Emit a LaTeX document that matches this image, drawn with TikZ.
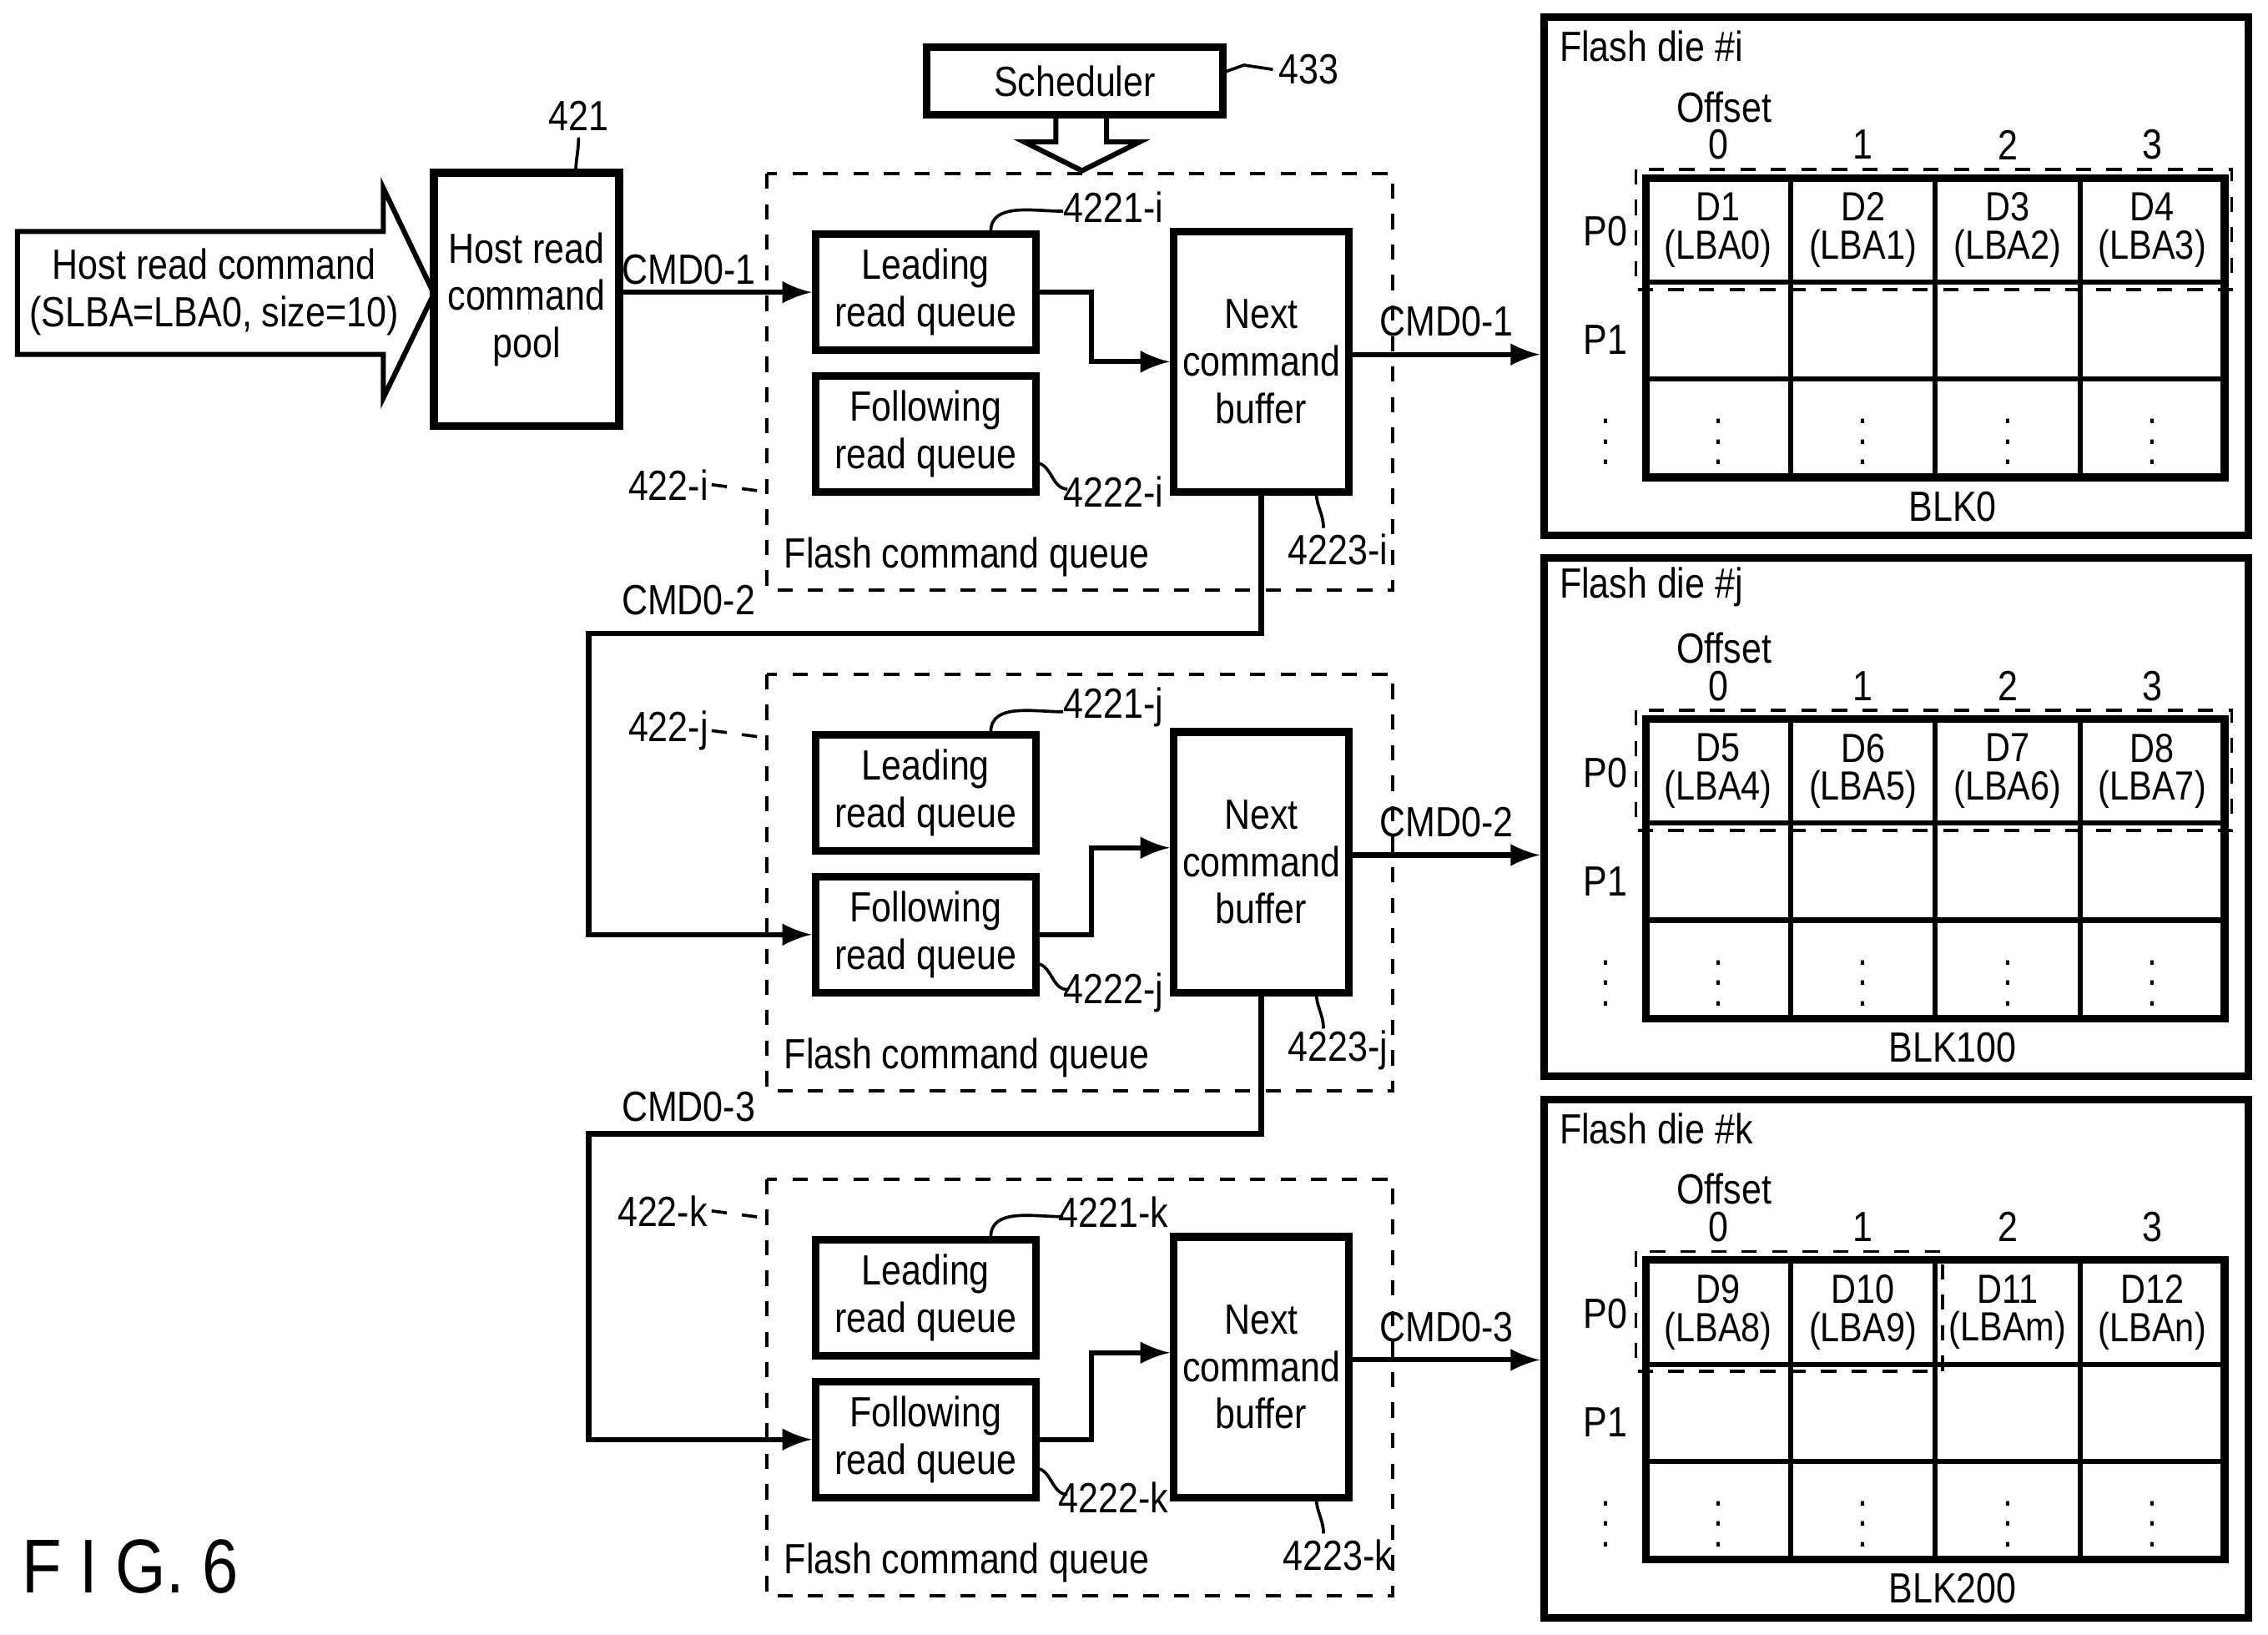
\documentclass[tikz,border=0pt]{standalone}
\usepackage{fontspec}
\setmainfont{Liberation Sans}[FakeStretch=0.85]
\usetikzlibrary{calc}
\usetikzlibrary{positioning}

\tikzset{
	box/.style={draw,line width=1.5pt,align=center,inner sep=1pt,font=\fontsize{8.3}{9.3}\selectfont},
	qbox/.style={box,minimum width=1.52cm,minimum height=0.8cm},
	fcq/.style={draw,dashed,line width=0.6pt},
	die/.style={draw,line width=1.5pt,minimum width=4.87cm,minimum height=3.58cm},
	sig/.style={line width=1pt,-latex},
	lbl/.style={font=\fontsize{8.3}{9.3}\selectfont,inner sep=1pt},
	cell/.style={font=\fontsize{8}{7.5}\selectfont,align=center},
}

\begin{document}
\begin{tikzpicture}[x=0.01cm,y=-0.01cm]
	\useasboundingbox (0,0) rectangle (1568,1130);

	% host command
	\draw[line width=1pt] (12,160)--(265,160)--(265,130)--(300,203)--(265,275)--(265,245)--(12,245)--cycle;
	\node[lbl,align=center] (host) at (148,202) {Host read command\\(SLBA=LBA0, size=10)};
	\node[box,minimum width=1.28cm,minimum height=1.75cm] (pool) at (364,207) {Host read\\command\\pool};
	\node[lbl] (l421) at (400,80) {421};
	\draw[line width=0.6pt] (398,120) to[out=90,in=-90] (400,95);

	% scheduler
	\node[box,minimum width=2.05cm,minimum height=0.47cm] (sched) at (743,56) {Scheduler};
	\node[lbl] (l433) at (905,48) {433};
	\draw[line width=0.6pt] (846,50) -- (860,45) -- (880,48);
	\draw[line width=1pt] (730,80)--(765,80)--(765,98)--(788,98)--(748,118)--(708,98)--(730,98)--cycle;

	% flash command queues
	\foreach \g/\dy in {i/0,j/346,k/695}{
		\draw[fcq] (530,120+\dy) rectangle (963,408+\dy);
		\node[lbl,anchor=west] at (538,385+\dy) {Flash command queue};
		\node[qbox] (lead\g) at (640,202+\dy) {Leading\\read queue};
		\node[qbox] (foll\g) at (640,300+\dy) {Following\\read queue};
		\node[box,minimum width=1.21cm,minimum height=1.8cm] (next\g) at (872,250+\dy) {Next\\command\\buffer};
		\node[lbl] at (770,143+\dy) {4221-\g};
		\draw[line width=0.6pt] (685,160+\dy) to[out=90,in=180] (735,146+\dy);
		\node[lbl] at (770,340+\dy) {4222-\g};
		\draw[line width=0.6pt] (716,320+\dy) to[out=0,in=180] (738,338+\dy);
		\node[lbl] at (925,380+\dy) {4223-\g};
		\draw[line width=0.6pt] (910,340+\dy) to[out=-90,in=90] (915,365+\dy);
	}
	\node[lbl] at (462,335) {422-i};
	\node[lbl] at (462,505) {422-j};
	\node[lbl] at (458,837) {422-k};
	\draw[dashed,line width=0.6pt] (492,335) -- (530,340);
	\draw[dashed,line width=0.6pt] (492,505) -- (530,510);
	\draw[dashed,line width=0.6pt] (492,837) -- (530,842);

	% flash dies
	\foreach \g/\dy/\blk in {i/0/BLK0,j/374/BLK100,k/748/BLK200}{
		\node[die] (die\g) at (1311,191+\dy) {};
		\node[lbl,anchor=west] at (1074,32+\dy) {Flash die \#\g};
		\node[lbl] at (1192,74+\dy) {Offset};
		\foreach \c in {0,...,3}
			\node[lbl] at (1188+100*\c,100+\dy) {\c};
		\draw[line width=1.5pt] (1138,123+\dy) rectangle (1538,330+\dy);
		\foreach \x in {1238,1338,1438}
			\draw[line width=1pt] (\x,123+\dy) -- (\x,330+\dy);
		\foreach \y in {195,262}
			\draw[line width=1pt] (1138,\y+\dy) -- (1538,\y+\dy);
		\node[lbl] at (1110,160+\dy) {P0};
		\node[lbl] at (1110,235+\dy) {P1};
		\node[lbl] at (1110,295+\dy) {$\vdots$};
		\foreach \c in {0,...,3}
			\node[lbl] at (1188+100*\c,295+\dy) {$\vdots$};
		\node[lbl] at (1350,350+\dy) {\blk};
	}
	\foreach \c/\t in {0/{D1\\(LBA0)},1/{D2\\(LBA1)},2/{D3\\(LBA2)},3/{D4\\(LBA3)}}
		\node[cell] at (1188+100*\c,159) {\t};
	\foreach \c/\t in {0/{D5\\(LBA4)},1/{D6\\(LBA5)},2/{D7\\(LBA6)},3/{D8\\(LBA7)}}
		\node[cell] at (1188+100*\c,533) {\t};
	\foreach \c/\t in {0/{D9\\(LBA8)},1/{D10\\(LBA9)},2/{D11\\(LBAm)},3/{D12\\(LBAn)}}
		\node[cell] at (1188+100*\c,907) {\t};
	\draw[dashed,line width=0.6pt] (1131,117) rectangle (1543,200);
	\draw[dashed,line width=0.6pt] (1131,491) rectangle (1543,574);
	\draw[dashed,line width=0.6pt] (1131,865) rectangle (1343,948);

	% command flow
	\draw[sig] (pool.east |- leadi) -- node[lbl,above,pos=0.35] {CMD0-1} (leadi.west);
	\draw[sig] (leadi.east) -- ++(36,0) |- (nexti.west);
	\draw[sig] (follj.east) -- ++(36,0) |- ($(nextj.west)+(0,-10)$);
	\draw[sig] (follk.east) -- ++(36,0) |- ($(nextk.west)+(0,-10)$);
	\foreach \g/\n in {i/1,j/2,k/3}
		\draw[sig] ($(next\g.east)+(0,-5)$) -- node[lbl,above=2pt] {CMD0-\n} ($(next\g.east -| die\g.west)+(0,-5)$);
	\draw[sig] (nexti.south) -- ++(0,95) -| (407,500) |- (follj.west);
	\node[lbl] at (476,415) {CMD0-2};
	\draw[sig] (nextj.south) -- ++(0,95) -| (407,850) |- (follk.west);
	\node[lbl] at (476,765) {CMD0-3};

	\node[font=\fontsize{15}{17}\selectfont] (fig) at (90,1083) {F I G. 6};
\end{tikzpicture}
\end{document}
